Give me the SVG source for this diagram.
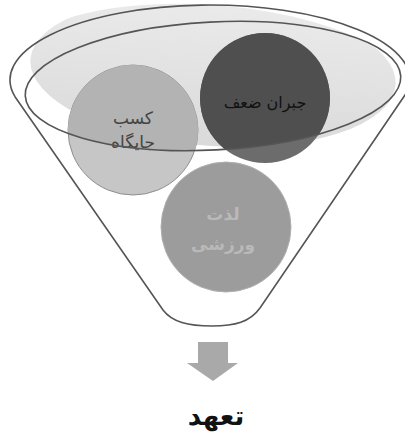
<svg xmlns="http://www.w3.org/2000/svg" width="405" height="432" viewBox="0 0 405 432">
  <style>
    .outline { fill: none; stroke: #555555; stroke-width: 1.6; }
    .fa { font-family: "DejaVu Sans", sans-serif; text-anchor: middle; }
  </style>
  <defs>
    <clipPath id="outerClip">
      <path d="M 15,96.7 A 200,75 0 1 1 408,90.6 L 260,308 C 250,322 235,326 212,326 C 188,326 172,322 163,310 Z"/>
    </clipPath>
    <clipPath id="innerClip">
      <ellipse cx="213" cy="86" rx="188" ry="64" transform="rotate(-3 213 86)"/>
    </clipPath>
    <linearGradient id="glass" x1="0" y1="0" x2="0" y2="1">
      <stop offset="0" stop-color="#ebebeb"/>
      <stop offset="1" stop-color="#dadada"/>
    </linearGradient>
  </defs>
  <rect width="405" height="432" fill="#ffffff"/>

  <g id="funnel">
    <path d="M 15,96.7 A 200,75 0 1 1 408,90.6 L 260,308 C 250,322 235,326 212,326 C 188,326 172,322 163,310 Z" fill="#ffffff"/>
    <ellipse cx="213" cy="72" rx="183" ry="74" transform="rotate(4 213 72)" fill="url(#glass)" clip-path="url(#outerClip)"/>
  </g>

  <g id="node-kasb">
    <circle cx="133" cy="130" r="65" fill="#c6c6c6" stroke="#8e8e8e" stroke-width="1"/>
    <circle cx="133" cy="130" r="65" fill="#b3b3b3" clip-path="url(#innerClip)"/>
    <text class="fa" x="133" y="124" font-size="17" fill="#444444">کسب</text>
    <text class="fa" x="133" y="148" font-size="17" fill="#444444">جایگاه</text>
  </g>

  <g id="node-jobran">
    <circle cx="265" cy="98" r="65" fill="#6c6c6c"/>
    <circle cx="265" cy="98" r="65" fill="#4f4f4f" clip-path="url(#innerClip)"/>
    <text class="fa" x="265" y="108" font-size="16" fill="#111111">جبران ضعف</text>
  </g>

  <g id="node-lezat">
    <circle cx="226" cy="227" r="65" fill="#9c9c9c" stroke="#b0b0b0" stroke-width="1"/>
    <text class="fa" x="223" y="220" font-size="17" font-weight="bold" fill="#b9b9b9">لذت</text>
    <text class="fa" x="223" y="250" font-size="17" font-weight="bold" fill="#b9b9b9">ورزشی</text>
  </g>

  <g id="funnel-lines">
    <path class="outline" d="M 15,96.7 A 200,75 0 1 1 408,90.6 L 260,308 C 250,322 235,326 212,326 C 188,326 172,322 163,310 Z"/>
    <ellipse class="outline" cx="213" cy="86" rx="188" ry="64" transform="rotate(-3 213 86)"/>
  </g>

  <g id="connectors">
    <path d="M 198,342 L 228,342 L 228,363 L 238,363 L 213,381 L 187,363 L 198,363 Z" fill="#a9a9a9"/>
  </g>

  <g id="node-taahod">
    <text class="fa" x="216" y="425" font-size="26" font-weight="bold" fill="#111111">تعهد</text>
  </g>
</svg>
